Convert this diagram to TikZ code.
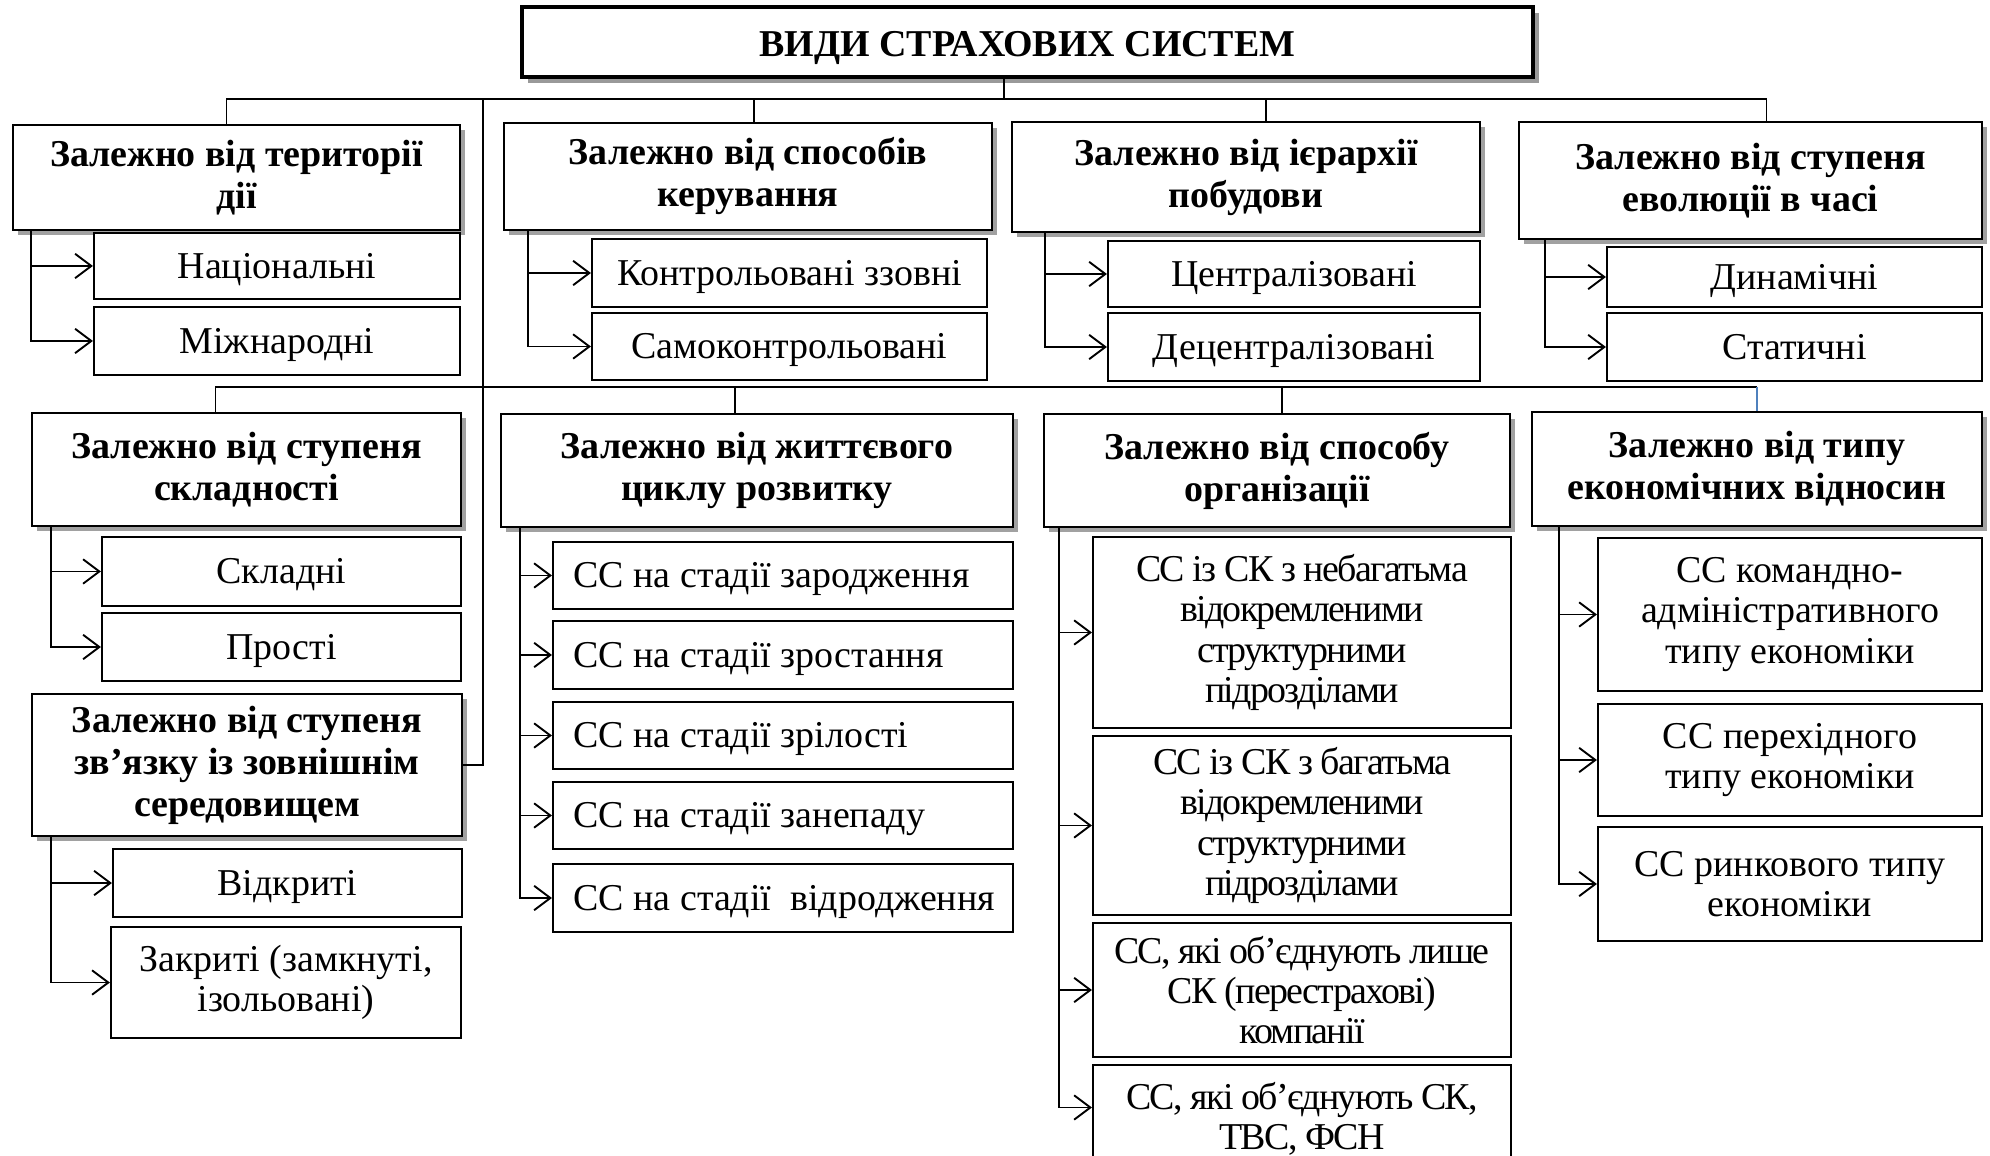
\documentclass[tikz,border=0pt]{standalone}
\usepackage{fontspec}
\setmainfont{Liberation Serif}
\usetikzlibrary{arrows.meta,positioning,calc,shadows}

\begin{document}
\begin{tikzpicture}[
  x=0.369pt, y=-0.369pt,
  cell/.style n args={4}{at={({(#1+#3)/2},{(#2+#4)/2})}, minimum width={(#3-#1)*0.369pt}, minimum height={(#4-#2)*0.369pt}},
  titlebox/.style={draw, line width=1.8pt, fill=white, inner sep=0pt, text height=14pt, text depth=3pt,
    font=\fontsize{14}{16}\selectfont\bfseries,
    drop shadow={shadow xshift=2.2pt, shadow yshift=-2.2pt, fill=black!40, opacity=1}},
  hdr/.style={draw, line width=0.8pt, fill=white, inner sep=0pt, align=center, font=\fontsize{14}{15.5}\selectfont\bfseries,
    drop shadow={shadow xshift=2pt, shadow yshift=-2pt, fill=black!37, opacity=1}},
  leaf/.style={draw, line width=0.8pt, fill=white, inner sep=0pt, align=center, font=\fontsize{14}{14.8}\selectfont},
  oneline/.style={leaf, text height=11pt, text depth=2pt},
  leaftight/.style={leaf, font=\fontsize{14}{14.8}\selectfont\addfontfeatures{LetterSpace=-4.5}},
  leafl/.style={oneline, text width=154.6pt, align=flush left},
  link/.style={line width=0.5pt},
  arr/.style={-{Straight Barb[length=6pt,width=9pt,line width=0.7pt]}, line width=0.6pt}
]
  \useasboundingbox (0,0) rectangle (1990,1156);
  \clip (0,0) rectangle (1990,1156);

  \node[titlebox, cell={522}{7}{1533}{77}] (title) {ВИДИ СТРАХОВИХ СИСТЕМ};

  % top row
  \node[hdr, cell={13}{125}{460}{230}] (terr) {Залежно від території\\дії};
  \node[oneline, cell={94}{233}{460}{299}] (nat) {Національні};
  \node[oneline, cell={94}{307}{460}{375}] (intl) {Міжнародні};

  \node[hdr, cell={504}{123}{992}{230}] (mgmt) {Залежно від способів\\керування};
  \node[oneline, cell={592}{239}{987}{307}] (extctl) {Контрольовані ззовні};
  \node[oneline, cell={592}{313}{987}{380}] (selfctl) {Самоконтрольовані};

  \node[hdr, cell={1012}{122}{1480}{232}] (hier) {Залежно від ієрархії\\побудови};
  \node[oneline, cell={1108}{241}{1480}{307}] (central) {Централізовані};
  \node[oneline, cell={1108}{313}{1480}{381}] (decentral) {Децентралізовані};

  \node[hdr, cell={1519}{122}{1982}{239}] (evol) {Залежно від ступеня\\еволюції в часі};
  \node[oneline, cell={1607}{247}{1982}{307}] (dyn) {Динамічні};
  \node[oneline, cell={1607}{313}{1982}{381}] (stat) {Статичні};

  % bottom row
  \node[hdr, cell={32}{413}{461}{526}] (cmplx) {Залежно від ступеня\\складності};
  \node[oneline, cell={102}{537}{461}{606}] (compound) {Складні};
  \node[oneline, cell={102}{613}{461}{681}] (simple) {Прості};

  \node[hdr, cell={32}{694}{462}{836}] (ext) {Залежно від ступеня\\зв’язку із зовнішнім\\середовищем};
  \node[oneline, cell={113}{849}{462}{917}] (open) {Відкриті};
  \node[leaf, cell={111}{927}{461}{1038}] (closed) {Закриті (замкнуті,\\ізольовані)};

  \node[hdr, cell={501}{414}{1013}{527}] (life) {Залежно від життєвого\\циклу розвитку};
  \node[leafl, cell={553}{542}{1013}{609}] (birth) {СС на стадії зародження};
  \node[leafl, cell={553}{621}{1013}{689}] (growth) {СС на стадії зростання};
  \node[leafl, cell={553}{702}{1013}{769}] (mature) {СС на стадії зрілості};
  \node[leafl, cell={553}{782}{1013}{849}] (decline) {СС на стадії занепаду};
  \node[leafl, cell={553}{864}{1013}{932}] (revival) {\mbox{СС на стадії~ відродження}};

  \node[hdr, cell={1044}{414}{1510}{527}] (org) {Залежно від способу\\організації};
  \node[leaftight, cell={1093}{537}{1511}{728}] (orgA) {СС із СК з небагатьма\\відокремленими\\структурними\\підрозділами};
  \node[leaftight, cell={1093}{736}{1511}{915}] (orgB) {СС із СК з багатьма\\відокремленими\\структурними\\підрозділами};
  \node[leaftight, cell={1093}{923}{1511}{1057}] (orgC) {СС, які об’єднують лише\\СК (перестрахові)\\компанії};
  \node[leaftight, cell={1093}{1065}{1511}{1172}] (orgD) {СС, які об’єднують СК,\\ТВС, ФСН};

  \node[hdr, cell={1532}{412}{1982}{526}] (econ) {Залежно від типу\\економічних відносин};
  \node[leaf, cell={1598}{538}{1982}{691}] (command) {СС командно-\\адміністративного\\типу економіки};
  \node[leaf, cell={1598}{704}{1982}{816}] (transit) {СС перехідного\\типу економіки};
  \node[leaf, cell={1598}{827}{1982}{941}] (market) {СС ринкового типу\\економіки};

  % buses
  \coordinate (bus1) at (1004,99);
  \coordinate (spine) at (483,99);
  \coordinate (bus2) at (483,387);
  \draw[link] (title.south -| bus1) -- (bus1);
  \draw[link] (bus1) -| ($(terr.north)+(-10,0)$);
  \draw[link] (bus1) -| ($(mgmt.north)+(6,0)$);
  \draw[link] (bus1) -| ($(hier.north)+(20,0)$);
  \draw[link] (bus1) -| ($(evol.north)+(16,0)$);
  \draw[link] (spine) |- (ext);
  \draw[link] (bus2) -| ($(cmplx.north)+(-31,0)$);
  \draw[link] (bus2) -| ($(life.north)+(-22,0)$);
  \draw[link] (bus2) -| ($(org.north)+(5,0)$);
  \draw[link] (bus2) -- (bus2 -| econ.north);
  \draw[link, draw={rgb,255:red,79;green,129;blue,189}] (bus2 -| econ.north) -- (econ.north);

  % branches
  \draw[arr] ($(terr.south west)+(19,0)$) |- (nat);
  \draw[arr] ($(terr.south west)+(19,0)$) |- (intl);
  \draw[arr] ($(mgmt.south west)+(25,0)$) |- (extctl);
  \draw[arr] ($(mgmt.south west)+(25,0)$) |- (selfctl);
  \draw[arr] ($(hier.south west)+(34,0)$) |- (central);
  \draw[arr] ($(hier.south west)+(34,0)$) |- (decentral);
  \draw[arr] ($(evol.south west)+(27,0)$) |- (dyn);
  \draw[arr] ($(evol.south west)+(27,0)$) |- (stat);

  \draw[arr] ($(cmplx.south west)+(20,0)$) |- (compound);
  \draw[arr] ($(cmplx.south west)+(20,0)$) |- (simple);
  \draw[arr] ($(ext.south west)+(20,0)$) |- (open);
  \draw[arr] ($(ext.south west)+(20,0)$) |- (closed);
  \draw[arr] ($(life.south west)+(20,0)$) |- (birth);
  \draw[arr] ($(life.south west)+(20,0)$) |- (growth);
  \draw[arr] ($(life.south west)+(20,0)$) |- (mature);
  \draw[arr] ($(life.south west)+(20,0)$) |- (decline);
  \draw[arr] ($(life.south west)+(20,0)$) |- (revival);
  \draw[arr] ($(org.south west)+(16,0)$) |- (orgA);
  \draw[arr] ($(org.south west)+(16,0)$) |- (orgB);
  \draw[arr] ($(org.south west)+(16,0)$) |- (orgC);
  \draw[arr] ($(org.south west)+(16,0)$) |- ($(orgD.west)+(0,-11)$);
  \draw[arr] ($(econ.south west)+(28,0)$) |- (command);
  \draw[arr] ($(econ.south west)+(28,0)$) |- (transit);
  \draw[arr] ($(econ.south west)+(28,0)$) |- (market);
\end{tikzpicture}
\end{document}
